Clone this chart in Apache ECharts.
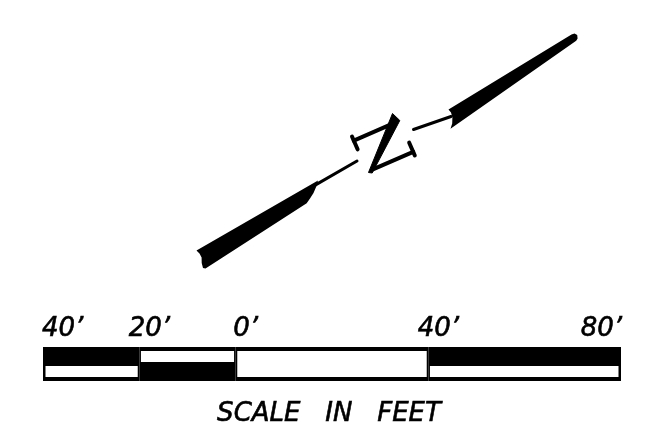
<!DOCTYPE html>
<html><head><meta charset="utf-8">
<script src="https://cdn.jsdelivr.net/npm/echarts@6/dist/echarts.min.js"></script>
<style>html,body{margin:0;padding:0;background:#fff}#c{width:655px;height:440px}</style>
</head><body><div id="c"></div>
<script>
// ---- scale bar (feet) ----
const tickValues = [-40, -20, 0, 40, 80];
const tickLabels = ["40\u2019", "20\u2019", "0\u2019", "40\u2019", "80\u2019"];
// [fromFeet, toFeet, rowFrom, rowTo, fill]
const scaleCells = [
  [-40, -20, 1, 2, 'black'],
  [-40, -20, 0, 1, 'white'],
  [-20, 0, 1, 2, 'white'],
  [-20, 0, 0, 1, 'black'],
  [0, 40, 0, 2, 'white'],
  [40, 80, 1, 2, 'black'],
  [40, 80, 0, 1, 'white']
];
const captionText = 'SCALE   IN   FEET';

// ---- north arrow drawing (drawing units) ----
const lowerWedge = [[196.5,250.5],[318,180.6],[316.5,186],[313.5,193],[310,198.5],[306.7,203.3],[205.5,268.6],[203,268],[201.7,263],[201.6,257.5],[199.5,253.5]];
const upperWedge = [[448.5,109.5],[571.5,34.4],[574.5,33.4],[577.2,35.0],[577.6,38.6],[576.2,40.8],[450.5,128.8],[452.2,123.5],[452.4,117.5],[451,112.5]];
const shaftLines = [[[316,184.6],[357,161]], [[413.5,129.5],[451,116.5]]];
const zStrokes = [
  [[352.0,136.5],[357.6,149.3]],
  [[353.8,140.6],[395.0,122.7]],
  [[372.9,169.4],[413.2,151.9]],
  [[409.2,142.7],[414.8,155.5]]
];
const zDiagonal = [[392.5,113.5],[399.8,120.5],[372.2,173],[368.5,172.5]];

const chart = echarts.init(document.getElementById('c'), null, {renderer: 'canvas'});
const FONT = 'italic 26px "DejaVu Sans"';
const textStyle = (t, align) => ({text: t, font: FONT, fill: '#000', stroke: '#000', lineWidth: 0.6, align: align, verticalAlign: 'middle'});

chart.setOption({
  animation: false,
  backgroundColor: '#fff',
  grid: [
    {left: 43, top: 347, width: 578, height: 34},
    {left: 0, top: 0, width: 655, height: 440}
  ],
  xAxis: [
    {type: 'value', gridIndex: 0, min: -40, max: 80, show: false},
    {type: 'value', gridIndex: 1, min: 0, max: 655, show: false}
  ],
  yAxis: [
    {type: 'value', gridIndex: 0, min: 0, max: 2, show: false},
    {type: 'value', gridIndex: 1, min: 0, max: 440, inverse: true, show: false}
  ],
  graphic: [{
    type: 'text', x: 329, y: 414.5,
    style: textStyle(captionText, 'center')
  }],
  series: [
    {
      type: 'custom', xAxisIndex: 0, yAxisIndex: 0,
      data: scaleCells.map(c => [c[0], c[1], c[2], c[3]]),
      encode: {x: [0, 1], y: [2, 3]},
      renderItem: function (params, api) {
        const c = scaleCells[params.dataIndex];
        const p0 = api.coord([c[0], c[3]]);
        const p1 = api.coord([c[1], c[2]]);
        const w = p1[0] - p0[0], h = p1[1] - p0[1];
        const kids = [{type: 'rect', shape: {x: p0[0], y: p0[1], width: w, height: h}, style: {fill: '#000'}}];
        if (c[4] === 'white') {
          const il = c[0] === -40 ? 2.5 : 1.6, ir = c[1] === 80 ? 2.5 : 1.6;
          const it = c[3] === 2 ? 4 : 2, ib = c[2] === 0 ? 4 : 2;
          kids.push({type: 'rect', shape: {x: p0[0] + il, y: p0[1] + it, width: w - il - ir, height: h - it - ib}, style: {fill: '#fff'}});
        }
        return {type: 'group', children: kids};
      }
    },
    {
      type: 'custom', xAxisIndex: 0, yAxisIndex: 0,
      data: tickValues.map(v => [v, 2]),
      renderItem: function (params, api) {
        const i = params.dataIndex;
        const p = api.coord([api.value(0), 2]);
        let align = 'center', dx = 10;
        if (i === 0) { align = 'left'; dx = -1; }
        if (i === tickValues.length - 1) { align = 'right'; dx = 1; }
        return {type: 'text', x: p[0] + dx, y: p[1] - 17.5, style: textStyle(tickLabels[i], align)};
      }
    },
    {
      type: 'custom', xAxisIndex: 1, yAxisIndex: 1,
      data: [[0, 0]],
      renderItem: function (params, api) {
        const cv = pts => pts.map(p => api.coord(p));
        const kids = [];
        kids.push({type: 'polygon', shape: {points: cv(lowerWedge)}, style: {fill: '#000'}});
        kids.push({type: 'polygon', shape: {points: cv(upperWedge)}, style: {fill: '#000'}});
        shaftLines.forEach(l => kids.push({type: 'polyline', shape: {points: cv(l)}, style: {stroke: '#000', lineWidth: 3, lineCap: 'round'}}));
        zStrokes.forEach(l => kids.push({type: 'polyline', shape: {points: cv(l)}, style: {stroke: '#000', lineWidth: 4, lineCap: 'round'}}));
        kids.push({type: 'polygon', shape: {points: cv(zDiagonal)}, style: {fill: '#000', stroke: '#000', lineWidth: 1, lineJoin: 'round'}});
        return {type: 'group', children: kids};
      }
    }
  ]
});
</script></body></html>
